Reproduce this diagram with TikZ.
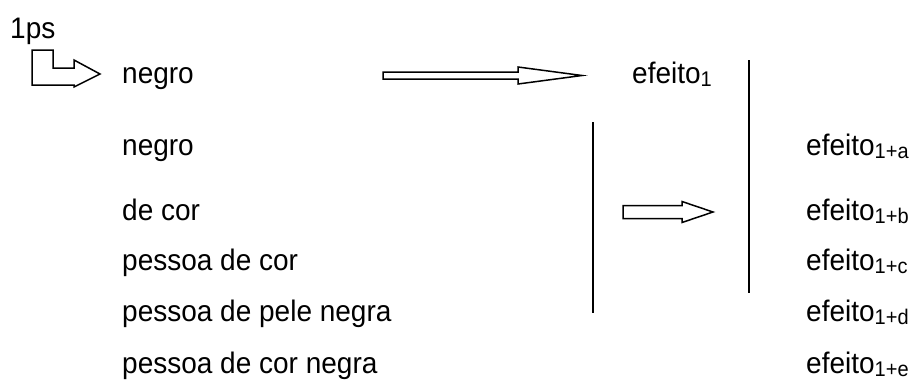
\documentclass[tikz,border=0pt]{standalone}
\usepackage{graphicx}
\usepackage{fontspec}
\setmainfont{Liberation Sans}
\newcommand\sbs[1]{\raisebox{-3pt}{\fontsize{20}{20}\selectfont #1}}
\newcommand\tx[1]{\scalebox{1}[1.06]{#1}}
\begin{document}
\begin{tikzpicture}[x=1pt,y=-1pt,
  lbl/.style={anchor=base west, inner sep=0pt, font=\fontsize{28}{30}\selectfont},
  blk/.style={draw=black, line width=1.5pt, fill=white, line join=miter},
  vline/.style={draw=black, line width=2pt}]
\useasboundingbox (0,0) rectangle (916,381);
% texts
\node[lbl] (ps) at (10,38) {\tx{1ps}};
\node[lbl] (l1) at (122,83) {\tx{negro}};
\node[lbl] (l2) at (122,155) {\tx{negro}};
\node[lbl] (l3) at (122,220) {\tx{de cor}};
\node[lbl] (l4) at (122,270) {\tx{pessoa de cor}};
\node[lbl] (l5) at (122,321) {\tx{pessoa de pele negra}};
\node[lbl] (l6) at (122,373) {\tx{pessoa de cor negra}};
\node[lbl] (e1) at (632,83) {\tx{efeito\sbs{1}}};
\node[lbl] (ea) at (806,155) {\tx{efeito\sbs{1+a}}};
\node[lbl] (eb) at (806,220) {\tx{efeito\sbs{1+b}}};
\node[lbl] (ec) at (806,270) {\tx{efeito\sbs{1+c}}};
\node[lbl] (ed) at (806,321) {\tx{efeito\sbs{1+d}}};
\node[lbl] (ee) at (806,373) {\tx{efeito\sbs{1+e}}};
% bent arrow
\draw[blk] (32,50) -- (53,50) -- (53,68) -- (74,68) -- (74,60) -- (100,74)
  -- (74,87) -- (74,85) -- (32,85) -- cycle;
% long arrow
\draw[blk] (383,72) -- (518,72) -- (518,67) -- (582,75.5) -- (518,84) -- (518,79)
  -- (383,79) -- cycle;
% short arrow
\draw[blk] (623,205.5) -- (682,205.5) -- (682,201.5) -- (713,212) -- (682,222.5)
  -- (682,218.5) -- (623,218.5) -- cycle;
% vertical lines
\coordinate (v1t) at (593,122); \coordinate (v1b) at (593,313);
\coordinate (v2t) at (749,60);  \coordinate (v2b) at (749,293);
\draw[vline] (v1t) -- (v1b);
\draw[vline] (v2t) -- (v2b);
\end{tikzpicture}
\end{document}
